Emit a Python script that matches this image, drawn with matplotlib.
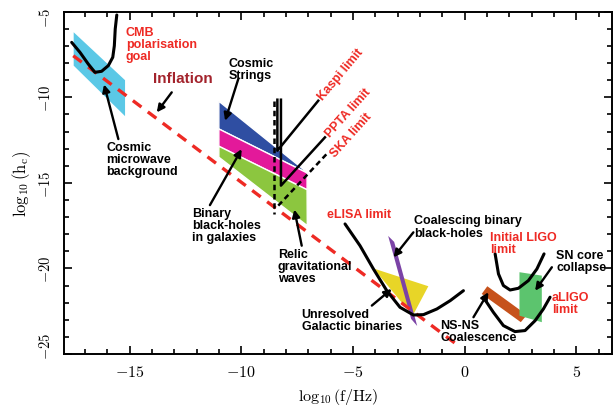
import matplotlib
matplotlib.use("Agg")
import matplotlib.pyplot as plt
from matplotlib.patches import Polygon
from matplotlib.ticker import MultipleLocator, FuncFormatter
from matplotlib.transforms import ScaledTranslation

plt.rcParams['mathtext.fontset'] = 'cm'
plt.rcParams['font.family'] = ['Liberation Sans', 'DejaVu Sans']

# ---------------- data (log10 f, log10 h_c) ----------------
cmb_band = [(-17.5, -6.2), (-15.2, -9.0), (-15.2, -11.1), (-17.5, -8.15)]
cmb_goal_x = [-17.59, -17.22, -16.85, -16.55, -16.25, -15.95, -15.75, -15.68, -15.64, -15.57]
cmb_goal_y = [-6.79, -7.37, -8.05, -8.54, -8.48, -8.15, -7.66, -6.99, -6.01, -5.19]
inflation_x = [-17.52, -0.28]
inflation_y = [-7.57, -24.51]

strings_band = [(-11.0, -10.23), (-7.05, -14.38), (-7.05, -14.42), (-11.0, -11.85)]
bbh_gal_band = [(-11.0, -11.85), (-7.05, -14.42), (-7.05, -15.4), (-11.0, -12.86)]
relic_band = [(-11.0, -12.86), (-7.05, -15.4), (-7.04, -17.5), (-11.0, -13.5)]

kaspi_x = [-8.38, -8.38, -6.55]
kaspi_y = [-10.14, -13.12, -10.2]
ppta_x = [-8.22, -8.22, -6.25]
ppta_y = [-10.14, -15.16, -12.34]
ska_vert_x = [-8.53, -8.53]
ska_vert_y = [-10.2, -16.82]
ska_diag_x = [-8.34, -6.1]
ska_diag_y = [-16.33, -13.21]

elisa_x = [-5.35, -4.68, -4.08, -3.48, -2.89, -2.29, -1.84, -1.24, -0.64, -0.05]
elisa_y = [-17.4, -18.67, -20.03, -21.3, -22.27, -22.72, -22.7, -22.37, -21.88, -21.3]
galactic_band = [(-4.08, -20.0), (-1.62, -21.04), (-2.32, -22.76)]
smbh_band = [(-3.42, -18.1), (-3.15, -18.45), (-2.12, -23.36), (-2.39, -22.95)]

nsns_band = [(1.02, -21.04), (2.79, -22.72), (2.52, -23.14), (0.77, -21.49)]
sn_band = [(2.46, -20.22), (3.46, -20.42), (3.46, -23.14), (2.46, -22.76)]
iligo_x = [1.37, 1.52, 1.74, 2.04, 2.41, 2.86, 3.24, 3.56]
iligo_y = [-19.15, -20.32, -21.0, -21.26, -21.16, -20.71, -20.03, -19.15]
aligo_x = [0.84, 1.29, 1.74, 2.26, 2.71, 3.16, 3.53, 3.83]
aligo_y = [-21.68, -22.56, -23.34, -23.69, -23.63, -23.05, -22.37, -21.68]

x_ticks = [-15, -10, -5, 0, 5]
y_ticks = [-25, -20, -15, -10, -5]

# ---------------- figure ----------------
fig = plt.figure(figsize=(6.13, 4.06), dpi=100)
ax = fig.add_axes([0.1049, 0.1256, 0.893, 0.843])
ax.set_xlim(-17.92, 6.59)
ax.set_ylim(-25, -5)

RED = '#ee2a24'
def poly(pts, color, **kw):
    ax.add_patch(Polygon(pts, closed=True, facecolor=color, edgecolor=kw.pop('ec', 'none'),
                         lw=kw.pop('lw', 0), zorder=kw.pop('zorder', 2), **kw))

poly(cmb_band, '#5bc8e6')
poly(strings_band, '#2f4ea2', ec='white', lw=1)
poly(bbh_gal_band, '#e3199a', ec='white', lw=1)
poly(relic_band, '#8cc63f', ec='white', lw=1)
poly(galactic_band, '#e8d527')
poly(smbh_band, '#7b43a6', zorder=3)
poly(nsns_band, '#c6521c')
poly(sn_band, '#5cc46e')

ax.plot(inflation_x, inflation_y, color=RED, lw=2.4, dashes=(3.2, 2.4), zorder=4)

curve_kw = dict(color='black', lw=2.2, zorder=5, solid_capstyle='round')
ax.plot(cmb_goal_x, cmb_goal_y, **curve_kw)
ax.plot(elisa_x, elisa_y, **curve_kw)
ax.plot(iligo_x, iligo_y, **curve_kw)
ax.plot(aligo_x, aligo_y, **curve_kw)

ax.plot(kaspi_x, kaspi_y, color='black', lw=1.8, zorder=5)
ax.plot(ppta_x, ppta_y, color='black', lw=1.8, zorder=5)
ax.plot(ska_vert_x, ska_vert_y, color='black', lw=1.8, dashes=(2.2, 1.5), zorder=5)
ax.plot(ska_diag_x, ska_diag_y, color='black', lw=1.8, dashes=(2.2, 1.5), zorder=5)

def arrow(tail, head):
    ax.annotate('', xy=head, xytext=tail,
                arrowprops=dict(arrowstyle='-|>', color='black', lw=1.7,
                                mutation_scale=11, shrinkA=0, shrinkB=0), zorder=6)

FS = 9
tkw = dict(fontsize=FS, fontweight='bold', linespacing=1.0, zorder=7)
ax.text(-15.16, -5.84, 'CMB\npolarisation\ngoal', color=RED, ha='left', va='top', **tkw)
ax.text(-12.6, -8.87, 'Inflation', color='#a3232c', ha='center', va='center',
        fontsize=11, fontweight='bold', zorder=7)
arrow((-13.11, -9.71), (-13.78, -10.88))
ax.text(-16.05, -12.53, 'Cosmic\nmicrowave\nbackground', color='black', ha='left', va='top', **tkw)
arrow((-15.5, -12.44), (-16.14, -9.25))
ax.text(-10.58, -7.66, 'Cosmic\nStrings', color='black', ha='left', va='top', **tkw)
arrow((-10.13, -8.93), (-10.72, -11.37))
ax.text(-12.21, -16.43, 'Binary\nblack-holes\nin galaxies', color='black', ha='left', va='top', **tkw)
arrow((-11.4, -16.3), (-9.98, -13.03))
ax.text(-8.36, -18.8, 'Relic\ngravitational\nwaves', color='black', ha='left', va='top', **tkw)
arrow((-7.29, -18.67), (-7.62, -16.56))

ax.text(-6.45, -10.05, 'Kaspi limit', color=RED, rotation=50, rotation_mode='anchor',
        ha='left', va='center', **tkw)
ax.text(-6.12, -12.2, 'PPTA limit', color=RED, rotation=48, rotation_mode='anchor',
        ha='left', va='center', **tkw)
ax.text(-5.92, -13.35, 'SKA limit', color=RED, rotation=48, rotation_mode='anchor',
        ha='left', va='center', **tkw)

ax.text(-6.17, -16.82, 'eLISA limit', color=RED, ha='left', va='center', **tkw)
ax.text(-2.25, -16.82, 'Coalescing binary', color='black', ha='left', va='top', **tkw)
ax.text(-2.25, -17.56, 'black-holes', color='black', ha='left', va='top', **tkw)
arrow((-2.29, -17.89), (-3.18, -19.35))
ax.text(-7.29, -22.32, 'Unresolved\nGalactic binaries', color='black', ha='left', va='top', **tkw)
arrow((-4.15, -22.17), (-3.26, -21.2))
ax.text(-1.09, -22.96, 'NS-NS\nCoalescence', color='black', ha='left', va='top', **tkw)
arrow((0.40, -22.85), (1.07, -21.39))
ax.text(1.15, -17.79, 'Initial LIGO\nlimit', color=RED, ha='left', va='top', **tkw)
ax.text(4.1, -18.86, 'SN core\ncollapse', color='black', ha='left', va='top', **tkw)
arrow((3.91, -19.93), (3.16, -21.3))
ax.text(3.91, -21.33, 'aLIGO\nlimit', color=RED, ha='left', va='top', **tkw)

# ---------------- axes styling ----------------
ax.set_xticks(x_ticks)
ax.set_yticks(y_ticks)
ax.xaxis.set_minor_locator(MultipleLocator(1))
ax.yaxis.set_minor_locator(MultipleLocator(1))
fmt = FuncFormatter(lambda v, p: r'$%d$' % v)
ax.xaxis.set_major_formatter(fmt)
ax.yaxis.set_major_formatter(fmt)
ax.tick_params(which='both', direction='in', top=True, right=True, width=1.2)
ax.tick_params(which='major', length=6)
ax.tick_params(which='minor', length=3.5)
ax.tick_params(axis='x', pad=7, labelsize=11.5)
ax.tick_params(axis='y', pad=8, labelsize=10.5)
for lab in ax.get_yticklabels():
    lab.set_rotation(90)
    lab.set_va('center')
ylabs = ax.get_yticklabels()
ylabs[0].set_transform(ylabs[0].get_transform() + ScaledTranslation(0, 6/72, fig.dpi_scale_trans))
ylabs[-1].set_transform(ylabs[-1].get_transform() + ScaledTranslation(0, -4/72, fig.dpi_scale_trans))
for s in ax.spines.values():
    s.set_linewidth(1.4)
ax.set_xlabel(r'$\log_{10}(\mathrm{f/Hz})$', fontsize=11.5, labelpad=5)
ax.set_ylabel(r'$\log_{10}(\mathrm{h_c})$', fontsize=12, labelpad=4)

fig.savefig('out.png', dpi=100)
